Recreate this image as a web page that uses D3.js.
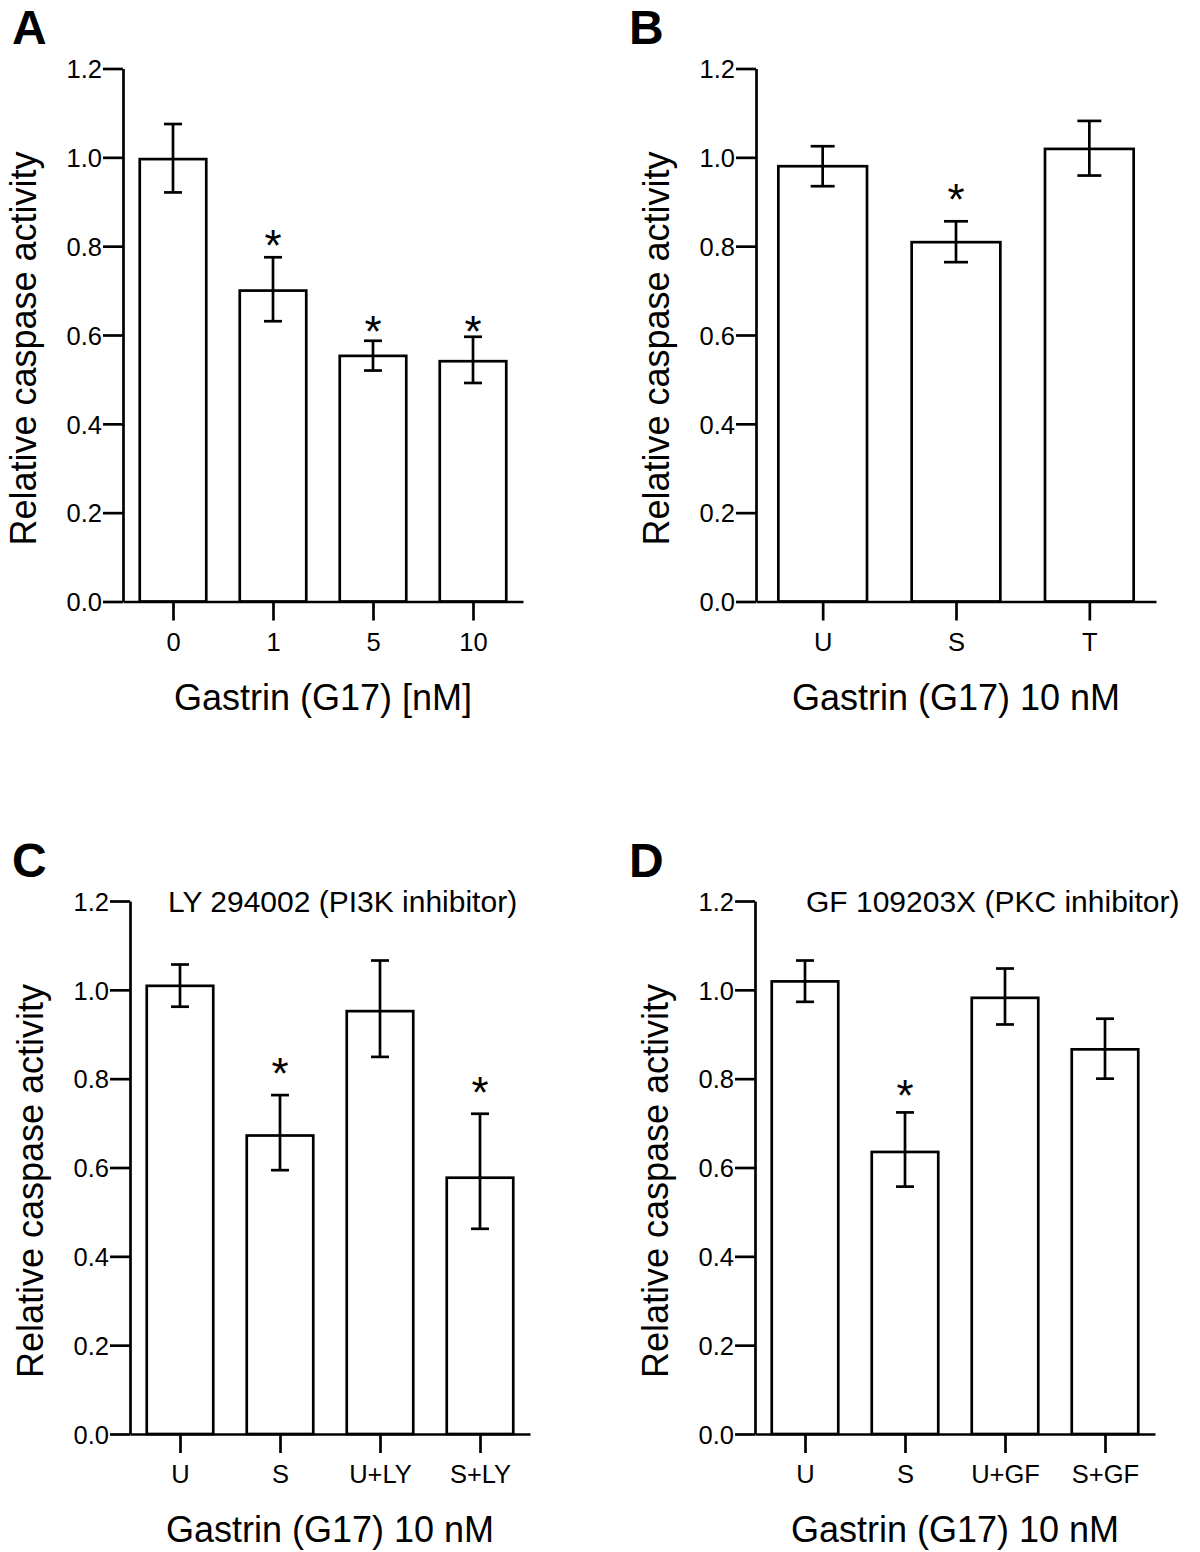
<!DOCTYPE html>
<html>
<head>
<meta charset="utf-8">
<script src="https://cdn.jsdelivr.net/npm/d3@7"></script>
<style>
  html, body { margin: 0; padding: 0; background: #fff; }
  svg { display: block; }
  text { font-family: "Liberation Sans", Arial, Helvetica, sans-serif; fill: #000; }
</style>
</head>
<body>
<svg id="chart" width="1200" height="1552"></svg>
<script>
// ---------- DATA ----------
const yTicks = [0.0, 0.2, 0.4, 0.6, 0.8, 1.0, 1.2];
const yTitle = "Relative caspase activity";

const catsA  = ["0", "1", "5", "10"];
const meanA  = [0.996, 0.700, 0.553, 0.541];
const hiA    = [1.075, 0.775, 0.587, 0.596];
const loA    = [0.921, 0.631, 0.520, 0.492];
const starA  = [null, 0.822, 0.630, 0.630];
const xTitleA = "Gastrin (G17) [nM]";

const catsB  = ["U", "S", "T"];
const meanB  = [0.980, 0.809, 1.019];
const hiB    = [1.025, 0.856, 1.082];
const loB    = [0.935, 0.764, 0.959];
const starB  = [null, 0.926, null];
const xTitleB = "Gastrin (G17) 10 nM";

const catsC  = ["U", "S", "U+LY", "S+LY"];
const meanC  = [1.009, 0.672, 0.952, 0.577];
const hiC    = [1.057, 0.763, 1.066, 0.721];
const loC    = [0.962, 0.594, 0.849, 0.462];
const starC  = [null, 0.834, null, 0.790];
const xTitleC = "Gastrin (G17) 10 nM";
const noteC  = "LY 294002 (PI3K inhibitor)";

const catsD  = ["U", "S", "U+GF", "S+GF"];
const meanD  = [1.019, 0.635, 0.982, 0.866];
const hiD    = [1.066, 0.724, 1.048, 0.935];
const loD    = [0.973, 0.557, 0.922, 0.800];
const starD  = [null, 0.783, null, null];
const xTitleD = "Gastrin (G17) 10 nM";
const noteD  = "GF 109203X (PKC inhibitor)";

// ---------- LAYOUT ----------
const panels = [
  { letter: "A", lx: 12,  ly: 44,    x0: 123, x1: 523,  y0: 601.5, y1: 68.5,
    cats: catsA, mean: meanA, hi: hiA, lo: loA, star: starA, xTitle: xTitleA, note: null },
  { letter: "B", lx: 629, ly: 44,    x0: 756, x1: 1156, y0: 601.5, y1: 68.5,
    cats: catsB, mean: meanB, hi: hiB, lo: loB, star: starB, xTitle: xTitleB, note: null },
  { letter: "C", lx: 12,  ly: 877,   x0: 130, x1: 530,  y0: 1434, y1: 901,
    cats: catsC, mean: meanC, hi: hiC, lo: loC, star: starC, xTitle: xTitleC, note: noteC, nx: 168 },
  { letter: "D", lx: 629, ly: 877,   x0: 755, x1: 1155, y0: 1434, y1: 901,
    cats: catsD, mean: meanD, hi: hiD, lo: loD, star: starD, xTitle: xTitleD, note: noteD, nx: 806 }
];

const LW = 2.7;
const svg = d3.select("#chart");

panels.forEach(p => {
  const g = svg.append("g");
  const y = d3.scaleLinear().domain([0, 1.2]).range([p.y0, p.y1]);
  const x = d3.scalePoint().domain(p.cats).range([p.x0, p.x1]).padding(0.5);
  const step = x.step();
  const bw = step * 0.665;
  const cw = bw * 0.27;

  // panel letter
  g.append("text").attr("x", p.lx).attr("y", p.ly)
    .style("font-size", "48px").style("font-weight", "bold").text(p.letter);

  // bars
  const rows = p.cats.map((c, i) => ({ c, m: p.mean[i], hi: p.hi[i], lo: p.lo[i], s: p.star[i] }));
  g.selectAll("rect.bar").data(rows).join("rect")
    .attr("class", "bar")
    .attr("x", d => x(d.c) - bw / 2)
    .attr("width", bw)
    .attr("y", d => y(d.m))
    .attr("height", d => y(0) - y(d.m))
    .attr("fill", "#fff").attr("stroke", "#000").attr("stroke-width", LW);

  // error bars
  const eb = g.selectAll("g.err").data(rows).join("g").attr("class", "err")
    .attr("stroke", "#000").attr("stroke-width", LW);
  eb.append("line").attr("x1", d => x(d.c)).attr("x2", d => x(d.c))
    .attr("y1", d => y(d.hi)).attr("y2", d => y(d.lo));
  eb.append("line").attr("x1", d => x(d.c) - cw / 2).attr("x2", d => x(d.c) + cw / 2)
    .attr("y1", d => y(d.hi)).attr("y2", d => y(d.hi));
  eb.append("line").attr("x1", d => x(d.c) - cw / 2).attr("x2", d => x(d.c) + cw / 2)
    .attr("y1", d => y(d.lo)).attr("y2", d => y(d.lo));

  // stars
  g.selectAll("text.star").data(rows.filter(d => d.s != null)).join("text")
    .attr("class", "star")
    .attr("x", d => x(d.c))
    .attr("y", d => y(d.s) + 25)
    .attr("text-anchor", "middle")
    .style("font-size", "44px").text("*");

  // y axis
  const ya = g.append("g").attr("transform", `translate(${p.x0},0)`)
    .call(d3.axisLeft(y).tickValues(yTicks).tickFormat(d3.format(".1f"))
      .tickSize(20).tickSizeOuter(0).tickPadding(1));
  // x axis
  const xa = g.append("g").attr("transform", `translate(0,${p.y0})`)
    .call(d3.axisBottom(x).tickSize(19).tickSizeOuter(0).tickPadding(8));
  [ya, xa].forEach(a => {
    a.selectAll("path, line").attr("stroke", "#000").attr("stroke-width", LW);
    a.selectAll("text").style("font-size", "25.5px").attr("fill", "#000");
    a.attr("font-family", null);
  });
  ya.selectAll("text").attr("dy", "0.36em");
  xa.selectAll("text").attr("dy", "0.88em");

  // axis titles
  g.append("text")
    .attr("transform", `translate(${p.x0 - 87},${p.y0 - 253}) rotate(-90)`)
    .attr("text-anchor", "middle")
    .style("font-size", "36px").text(yTitle);
  g.append("text")
    .attr("x", (p.x0 + p.x1) / 2).attr("y", p.y0 + 108)
    .attr("text-anchor", "middle")
    .style("font-size", "36px").text(p.xTitle);

  if (p.note) {
    g.append("text").attr("x", p.nx).attr("y", p.y1 + 11)
      .style("font-size", "30px").text(p.note);
  }
});
</script>
</body>
</html>
